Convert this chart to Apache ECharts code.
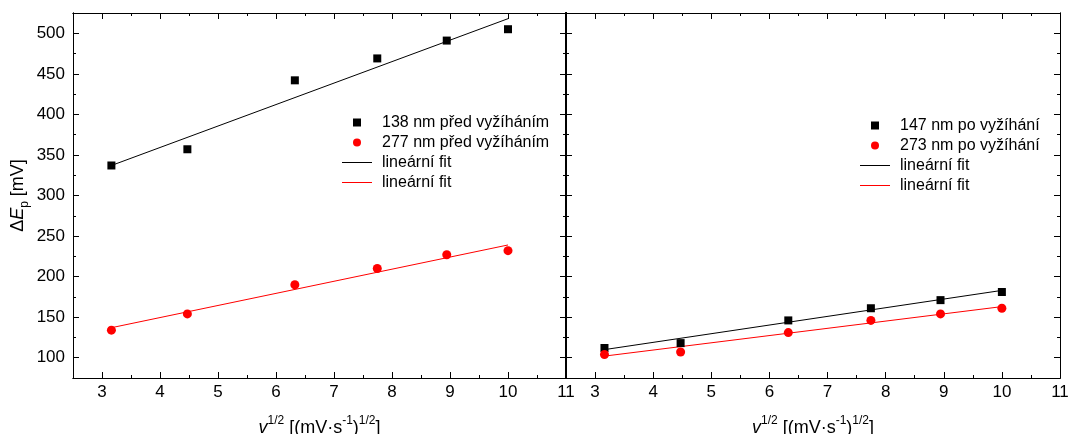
<!DOCTYPE html>
<html>
<head>
<meta charset="utf-8">
<script src="https://cdn.jsdelivr.net/npm/echarts@6/dist/echarts.min.js"></script>
<style>
html,body{margin:0;padding:0;background:#fff;}
#chart{width:1068px;height:434px;}
</style>
</head>
<body>
<div id="chart"></div>
<script>
// ---- data ----
const xVals = [3.162, 4.472, 6.325, 7.746, 8.944, 10];
const left138 = [337, 357, 442, 469, 491, 505];
const left277 = [134, 154, 190, 210, 227, 232];
const right147 = [112, 118, 146, 161, 171, 181];
const right273 = [104, 107, 131, 146, 154, 161];
const fitX = [3.162, 10];
const fitLeft138 = [337, 518];
const fitLeft277 = [137, 239];
const fitRight147 = [110, 183];
const fitRight273 = [102, 163];
const xMajor = [3, 4, 5, 6, 7, 8, 9, 10, 11];
const xMinor = [2.5, 3.5, 4.5, 5.5, 6.5, 7.5, 8.5, 9.5, 10.5];
const yMajor = [100, 150, 200, 250, 300, 350, 400, 450, 500];
const yMinor = [75, 125, 175, 225, 275, 325, 375, 425, 475, 525];
const legendLeft = ['138 nm před vyžíháním', '277 nm před vyžíháním', 'lineární fit', 'lineární fit'];
const legendRight = ['147 nm po vyžíhání', '273 nm po vyžíhání', 'lineární fit', 'lineární fit'];

const FONT = 'Liberation Sans, Arial, sans-serif';
const pair = (xs, ys) => xs.map((x, i) => [x, ys[i]]);

const L = {left: 73, top: 13, width: 493, height: 365, containLabel: false, outerBoundsMode: 'none'};
const R = {left: 566, top: 13, width: 494, height: 365, containLabel: false, outerBoundsMode: 'none'};
const gridRects = [L, Object.assign({}, L), R, Object.assign({}, R)];

const xName = '{i|v}{s|1/2}{n| [(mV·s}{s|-1}{n|)}{s|1/2}{n|]}';
const xNameStyle = {
  fontFamily: FONT, fontSize: 18, color: '#000',
  rich: {
    i: {fontFamily: FONT, fontSize: 18, fontStyle: 'italic', lineHeight: 22, verticalAlign: 'bottom', color:'#000'},
    n: {fontFamily: FONT, fontSize: 18, lineHeight: 22, verticalAlign: 'bottom', color:'#000'},
    s: {fontFamily: FONT, fontSize: 12, lineHeight: 12, verticalAlign: 'top', color:'#000'}
  }
};
const yName = '{n|Δ}{i|E}{b|p}{n| [mV]}';
const yNameStyle = {
  fontFamily: FONT, fontSize: 18, color: '#000',
  rich: {
    i: {fontFamily: FONT, fontSize: 18, fontStyle: 'italic', lineHeight: 22, verticalAlign: 'top', color:'#000'},
    n: {fontFamily: FONT, fontSize: 18, lineHeight: 22, verticalAlign: 'top', color:'#000'},
    b: {fontFamily: FONT, fontSize: 12, lineHeight: 12, verticalAlign: 'bottom', color:'#000'}
  }
};

const xAxes = [], yAxes = [];
for (let g = 0; g < 4; g++) {
  const minor = g % 2 === 1;
  ['bottom', 'top'].forEach(pos => {
    const main = !minor && pos === 'bottom';
    xAxes.push({
      type: 'value', gridIndex: g, position: pos, min: 2.5, max: 11,
      name: main ? xName : '', nameLocation: 'middle', nameGap: 37, nameTextStyle: xNameStyle,
      axisLine: {show: true, onZero: false, lineStyle: {color: '#000', width: 1}},
      axisTick: {show: true, inside: true, length: minor ? 3 : 6, customValues: minor ? xMinor : xMajor,
                 lineStyle: {color: '#000', width: 1}},
      axisLabel: {show: main, customValues: xMajor, margin: 6, fontFamily: FONT, fontSize: 17, color: '#000'},
      splitLine: {show: false}, minorTick: {show: false}
    });
  });
  ['left', 'right'].forEach(pos => {
    const main = !minor && pos === 'left';
    yAxes.push({
      type: 'value', gridIndex: g, position: pos, min: 75, max: 525,
      name: (main && g === 0) ? yName : '', nameLocation: 'middle', nameGap: 42, nameRotate: 90,
      nameTextStyle: yNameStyle,
      axisLine: {show: true, onZero: false, lineStyle: {color: '#000', width: (g >= 2 && pos === 'left') ? 2 : 1}},
      axisTick: {show: true, inside: true, length: minor ? 3 : 6, customValues: minor ? yMinor : yMajor,
                 lineStyle: {color: '#000', width: 1}},
      axisLabel: {show: main && g === 0, customValues: yMajor, margin: 8, fontFamily: FONT, fontSize: 17, color: '#000'},
      splitLine: {show: false}, minorTick: {show: false}
    });
  });
}

function scatter(name, xi, yi, data, symbol, size, color) {
  return {name, type: 'scatter', xAxisIndex: xi, yAxisIndex: yi, data, symbol, symbolSize: size,
          itemStyle: {color, opacity: 1}, z: 5, silent: true};
}
function fit(name, xi, yi, data, color) {
  return {name, type: 'line', xAxisIndex: xi, yAxisIndex: yi, data, symbol: 'none', showSymbol: false,
          lineStyle: {color, width: 1}, itemStyle: {color}, z: 3, silent: true, animation: false};
}

const series = [
  fit('LfitK', 0, 0, pair(fitX, fitLeft138), '#000'),
  fit('LfitR', 0, 0, pair(fitX, fitLeft277), '#ff0000'),
  scatter('L138', 0, 0, pair(xVals, left138), 'rect', 8, '#000'),
  scatter('L277', 0, 0, pair(xVals, left277), 'circle', 9, '#ff0000'),
  fit('RfitK', 4, 4, pair(fitX, fitRight147), '#000'),
  fit('RfitR', 4, 4, pair(fitX, fitRight273), '#ff0000'),
  scatter('R147', 4, 4, pair(xVals, right147), 'rect', 8, '#000'),
  scatter('R273', 4, 4, pair(xVals, right273), 'circle', 9, '#ff0000')
];

const labelMap = {
  L138: legendLeft[0], L277: legendLeft[1], LfitK: legendLeft[2], LfitR: legendLeft[3],
  R147: legendRight[0], R273: legendRight[1], RfitK: legendRight[2], RfitR: legendRight[3]
};

const SQUARE = 'path://M0,0h10v10h-10z';
const LINEICON = 'path://M0,0h30v1h-30z';
function legend(names, left, top) {
  return {
    orient: 'vertical', left, top, itemWidth: 30, itemHeight: 8, itemGap: 2,
    selectedMode: false, padding: 0, symbolKeepAspect: true,
    data: [
      {name: names[0], icon: SQUARE, itemStyle: {opacity: 1}},
      {name: names[1], icon: 'circle', itemStyle: {opacity: 1}},
      {name: names[2], icon: LINEICON},
      {name: names[3], icon: LINEICON}
    ],
    formatter: n => labelMap[n],
    textStyle: {fontFamily: FONT, fontSize: 16, color: '#000', lineHeight: 18, padding: [0, 0, 0, 5]}
  };
}

const chart = echarts.init(document.getElementById('chart'), null, {renderer: 'canvas'});
chart.setOption({
  animation: false,
  backgroundColor: '#fff',
  grid: gridRects,
  xAxis: xAxes,
  yAxis: yAxes,
  legend: [
    legend(['L138', 'L277', 'LfitK', 'LfitR'], 342, 113.5),
    legend(['R147', 'R273', 'RfitK', 'RfitR'], 860, 116.5)
  ],
  series
});
</script>
</body>
</html>
